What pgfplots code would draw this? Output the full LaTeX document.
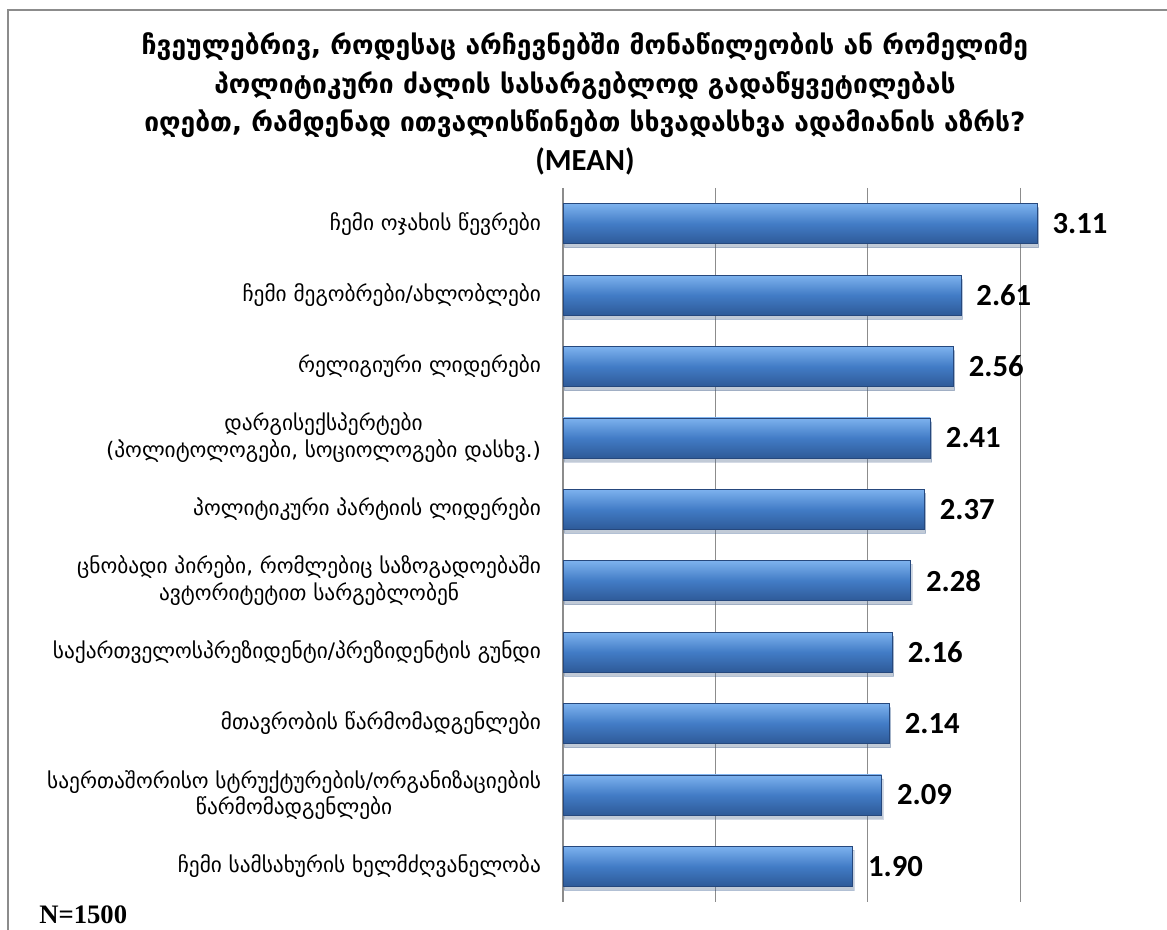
\documentclass[border=0pt]{standalone}
\usepackage{fontspec}
\usepackage{pgfplots}
\pgfplotsset{compat=1.18}
\usetikzlibrary{shadows}
\setmainfont{DejaVu Sans}
\newfontfamily\geo{DejaVu Sans}
\newfontfamily\calfont{Carlito}
\newfontfamily\tnrfont{Liberation Serif}
\definecolor{barTop}{RGB}{125,178,238}
\definecolor{barMid}{RGB}{66,124,198}
\definecolor{barBot}{RGB}{46,90,152}
\definecolor{barEdge}{RGB}{38,72,125}
\definecolor{gridc}{RGB}{140,140,140}
\begin{document}
\begin{tikzpicture}
\path[use as bounding box] (0,0) rectangle (875.25pt,-697.5pt);
\draw[gridc, line width=1.5pt] (6pt,-697.5pt) -- (6pt,-7.5pt) -- (876pt,-7.5pt);
\node[font=\geo\bfseries\fontsize{19.8}{22}\selectfont] at (438.75pt,-35.25pt) {ჩვეულებრივ, როდესაც არჩევნებში მონაწილეობის ან რომელიმე};
\node[font=\geo\bfseries\fontsize{19.8}{22}\selectfont] at (438.75pt,-64pt) {პოლიტიკური ძალის სასარგებლოდ გადაწყვეტილებას};
\node[font=\geo\bfseries\fontsize{19.8}{22}\selectfont] at (438.75pt,-93pt) {იღებთ, რამდენად ითვალისწინებთ სხვადასხვა ადამიანის აზრს?};
\node[font=\calfont\bfseries\fontsize{23}{26}\selectfont] at (438.75pt,-121pt) {(MEAN)};
\begin{axis}[
  at={(422.25pt,-676.5pt)}, anchor=south west,
  scale only axis, width=452.25pt, height=535.5pt,
  xmin=0, xmax=3.955, ymin=-0.5, ymax=9.5, y dir=reverse,
  axis line style={draw=none},
  major tick length=0pt,
  xtick={0,1,2,3}, xticklabels={}, xmajorgrids,
  grid style={gridc, line width=0.8pt},
  ytick={0,...,9},
  yticklabels={{ჩემი ოჯახის წევრები},{ჩემი მეგობრები/ახლობლები},{რელიგიური ლიდერები},{დარგისექსპერტები\\(პოლიტოლოგები, სოციოლოგები დასხვ.)},{პოლიტიკური პარტიის ლიდერები},{ცნობადი პირები, რომლებიც საზოგადოებაში\\ავტორიტეტით სარგებლობენ},{საქართველოსპრეზიდენტი/პრეზიდენტის გუნდი},{მთავრობის წარმომადგენლები},{საერთაშორისო სტრუქტურების/ორგანიზაციების\\წარმომადგენლები},{ჩემი სამსახურის ხელმძღვანელობა}},
  yticklabel style={align=center, font=\geo\fontsize{16}{20}\selectfont, xshift=-13pt},
  point meta=x,
  nodes near coords={\pgfmathprintnumber[fixed, fixed zerofill, precision=2, assume math mode=true]{\pgfplotspointmeta}},
  every node near coord/.append style={font=\calfont\bfseries\fontsize{23}{26}\selectfont, anchor=west, xshift=8pt, text=black},
  clip=false,
  mybar/.style={xbar, bar width=30pt, bar shift=0pt, draw=barEdge, line width=0.6pt,
    top color=barTop, bottom color=barBot, middle color=barMid,
    drop shadow={opacity=0.2, shadow xshift=1pt, shadow yshift=-3pt}},
]
\addplot[mybar] coordinates {(3.11,0)};
\addplot[mybar] coordinates {(2.61,1)};
\addplot[mybar] coordinates {(2.56,2)};
\addplot[mybar] coordinates {(2.41,3)};
\addplot[mybar] coordinates {(2.37,4)};
\addplot[mybar] coordinates {(2.28,5)};
\addplot[mybar] coordinates {(2.16,6)};
\addplot[mybar] coordinates {(2.14,7)};
\addplot[mybar] coordinates {(2.09,8)};
\addplot[mybar] coordinates {(1.90,9)};
\end{axis}
\node[anchor=west, font=\tnrfont\bfseries\fontsize{20}{23}\selectfont] at (26pt,-686pt) {N=1500};
\end{tikzpicture}
\end{document}
